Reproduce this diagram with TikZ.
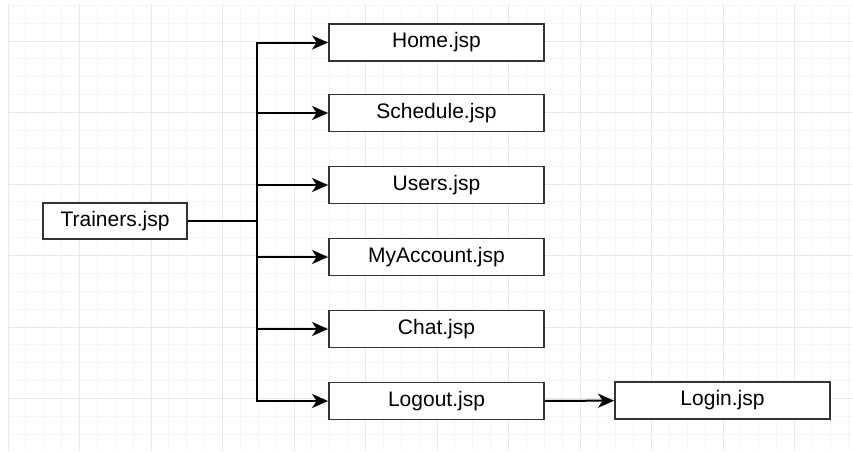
\documentclass[tikz,border=0pt]{standalone}
\usepackage{fontspec}
\setmainfont{Liberation Sans}
\usetikzlibrary{arrows.meta}
\definecolor{gridminor}{HTML}{F5F5F5}
\definecolor{gridmajor}{HTML}{E8E8E8}
\definecolor{boxline}{HTML}{333333}
\begin{document}
\begin{tikzpicture}
[x=1pt,y=-1pt,font=\fontsize{21}{24}\selectfont,
page/.style={draw=boxline,line width=1.8pt,fill=white,minimum width=215pt,minimum height=37pt,inner sep=0pt},
link/.style={-{Stealth[length=16pt,width=14pt,inset=4.5pt]},line width=2pt},
minorline/.style={gridminor,line width=0.8pt},
majorline/.style={gridmajor,line width=0.8pt}]
\useasboundingbox[fill=white] (0,0) rectangle (853,451);

% background grid
\foreach \gx in {8,25.875,...,853} \draw[minorline] (\gx,4) -- (\gx,451);
\foreach \gy in {5.25,23.125,...,451} \draw[minorline] (8,\gy) -- (853,\gy);
\foreach \gx in {8,79.5,...,853} \draw[majorline] (\gx,4) -- (\gx,451);
\foreach \gy in {41,112.5,...,451} \draw[majorline] (8,\gy) -- (853,\gy);

\node[page,minimum width=144pt,minimum height=36pt] (trainers) at (115,221) {Trainers.jsp};
\node[page] (home) at (436.5,42.5) {Home.jsp};
\node[page] (schedule) at (436.5,113) {Schedule.jsp};
\node[page] (users) at (436.5,185) {Users.jsp};
\node[page] (myaccount) at (436.5,257) {MyAccount.jsp};
\node[page] (chat) at (436.5,329) {Chat.jsp};
\node[page] (logout) at (436.5,401) {Logout.jsp};
\node[page] (login) at (722.5,400.5) {Login.jsp};
\coordinate (hub) at (257,221);

\draw [line width=2pt] (trainers) -- (hub);
\draw [link] (hub) |- (home.west);
\draw [link] (hub) |- (schedule.west);
\draw [link] (hub) |- (users.west);
\draw [link] (hub) |- (myaccount.west);
\draw [link] (hub) |- (chat.west);
\draw [link] (hub) |- (logout.west);
\draw [link] (logout) -- (login);
\end{tikzpicture}
\end{document}
